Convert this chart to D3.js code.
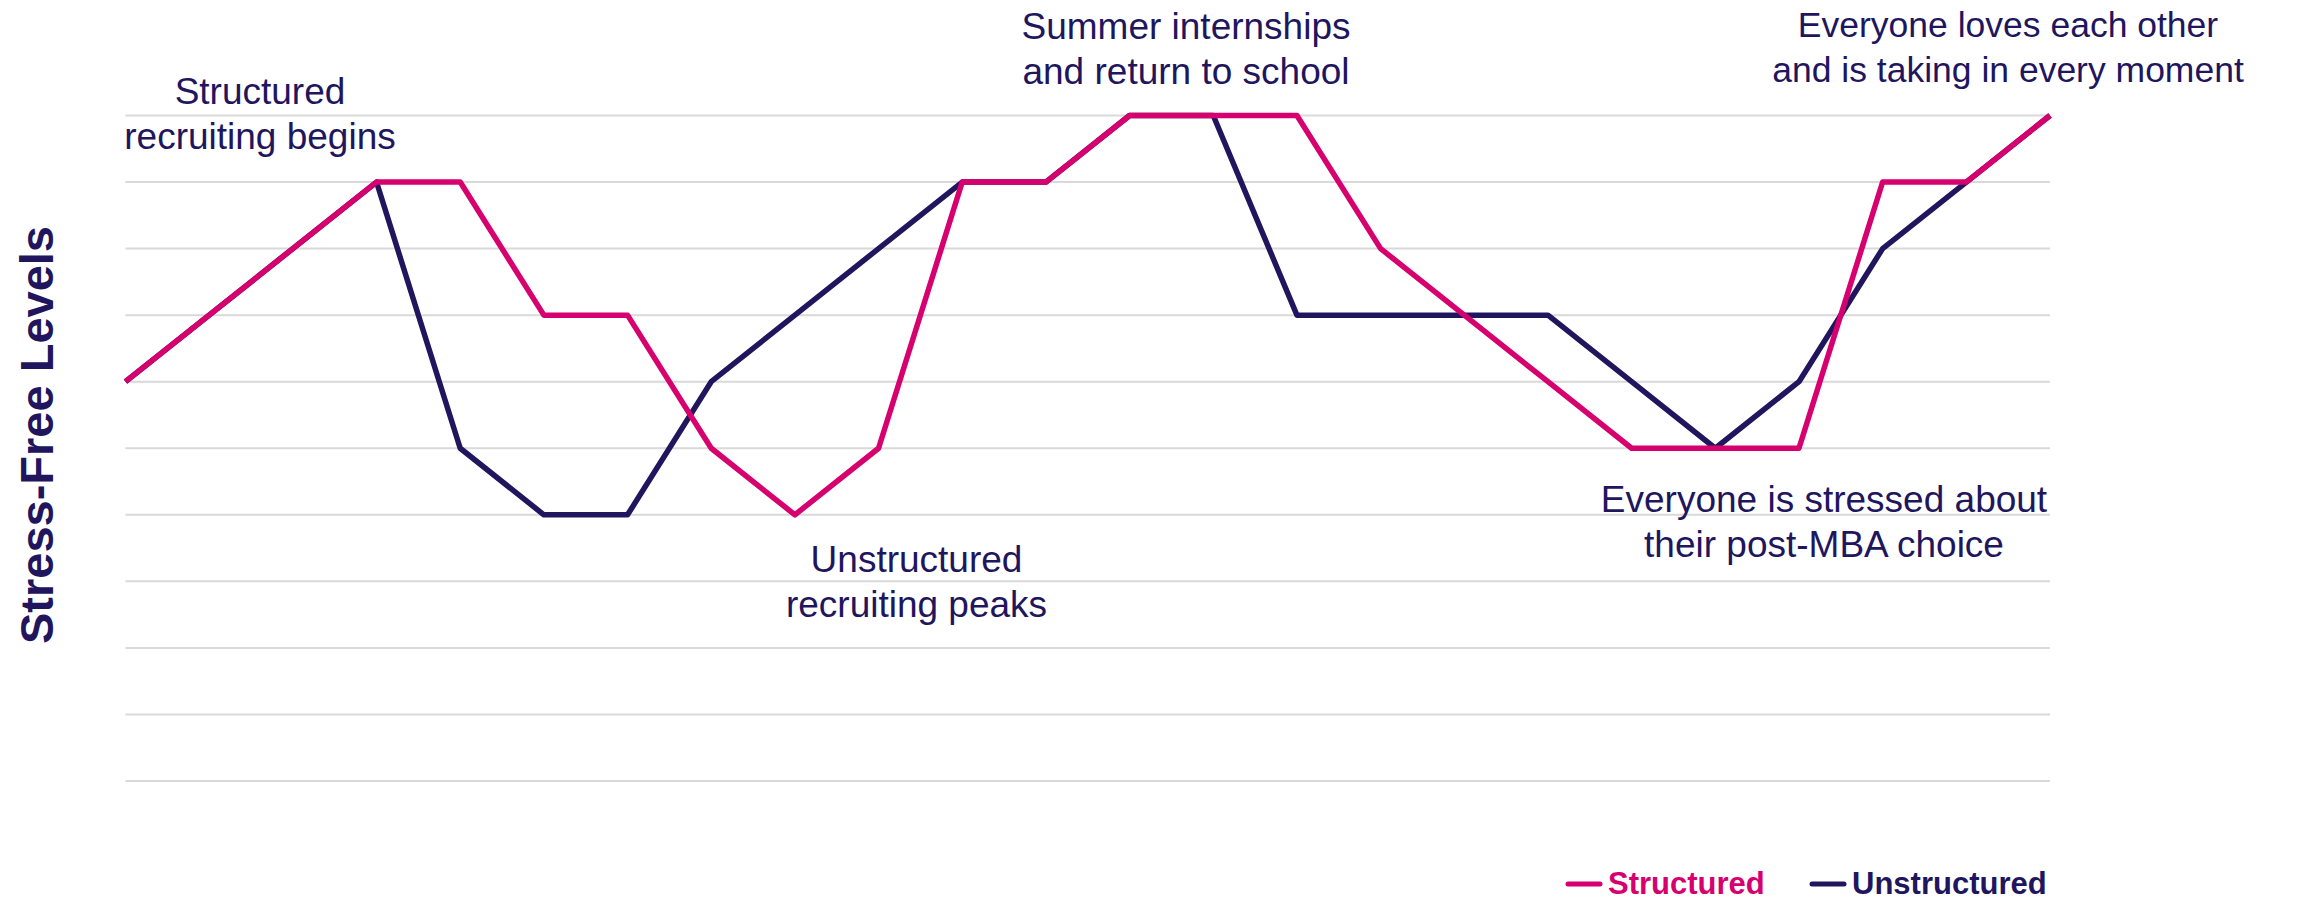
<!DOCTYPE html>
<html>
<head>
<meta charset="utf-8">
<script src="https://cdn.jsdelivr.net/npm/d3@7"></script>
<style>
  body { margin: 0; background: #fff; }
  svg { display: block; font-family: 'Liberation Sans', Arial, sans-serif; }
</style>
</head>
<body>
<div id="chart"></div>
<script>
// periods across the MBA (no labels on the axis)
const periods = ['1', '2', '3', '4', '5', '6', '7', '8', '9', '10', '11', '12',
  '13', '14', '15', '16', '17', '18', '19', '20', '21', '22', '23', '24'];

const structured = [6, 7, 8, 9, 9, 7, 7, 5, 4, 5, 9, 9, 10, 10, 10, 8, 7, 6, 5, 5, 5, 9, 9, 10];
const unstructured = [6, 7, 8, 9, 5, 4, 4, 6, 7, 8, 9, 9, 10, 10, 7, 7, 7, 7, 6, 5, 6, 8, 9, 10];

const levelTicks = [0, 1, 2, 3, 4, 5, 6, 7, 8, 9, 10];

const seriesNames = ['Structured', 'Unstructured'];

const notes = [
  ['Structured', 'recruiting begins'],
  ['Summer internships', 'and return to school'],
  ['Unstructured', 'recruiting peaks'],
  ['Everyone is stressed about', 'their post-MBA choice'],
  ['Everyone loves each other', 'and is taking in every moment']
];

const width = 2300, height = 902;
const pink = '#d6006f', navy = '#21165e';

const svg = d3.select('#chart').append('svg')
  .attr('width', width)
  .attr('height', height);

const x = d3.scalePoint().domain(periods).range([125.5, 2050]);
const y = d3.scaleLinear().domain([0, 10]).range([781, 115.5]);

// gridlines
svg.append('g')
  .selectAll('line')
  .data(levelTicks)
  .enter()
  .append('line')
  .attr('x1', x.range()[0])
  .attr('x2', x.range()[1])
  .attr('y1', d => y(d))
  .attr('y2', d => y(d))
  .style('stroke', '#d9d9d9')
  .style('stroke-width', 2);

const line = d3.line()
  .x((d, i) => x(periods[i]))
  .y(d => y(d));

// unstructured drawn first, structured sits on top
[[unstructured, navy], [structured, pink]].forEach(([vals, col]) => {
  svg.append('path')
    .datum(vals)
    .attr('d', line)
    .style('fill', 'none')
    .style('stroke', col)
    .style('stroke-width', 5.5)
    .style('stroke-linejoin', 'round');
});

// annotations
const notePos = [
  { cx: 260, base: 104, size: 37 },
  { cx: 1186, base: 39, size: 37 },
  { cx: 916.5, base: 572, size: 37 },
  { cx: 1824, base: 512, size: 37 },
  { cx: 2008, base: 37, size: 35.5 }
];

notes.forEach((lines, i) => {
  const t = svg.append('text')
    .attr('text-anchor', 'middle')
    .style('font-size', notePos[i].size + 'px')
    .style('fill', navy);
  lines.forEach((s, j) => {
    t.append('tspan')
      .attr('x', notePos[i].cx)
      .attr('y', notePos[i].base + j * 45)
      .text(s);
  });
});

// y axis title
svg.append('text')
  .attr('transform', 'translate(53,435) rotate(-90)')
  .attr('text-anchor', 'middle')
  .style('font-size', '47px')
  .style('font-weight', 'bold')
  .style('fill', navy)
  .text('Stress-Free Levels');

// legend
const legendX = [1568, 1812];
const legend = svg.append('g')
  .selectAll('g')
  .data(seriesNames)
  .enter()
  .append('g')
  .attr('transform', (d, i) => `translate(${legendX[i]},0)`);

legend.append('line')
  .attr('x1', 0)
  .attr('x2', 32)
  .attr('y1', 884)
  .attr('y2', 884)
  .style('stroke', (d, i) => (i === 0 ? pink : navy))
  .style('stroke-width', 5)
  .style('stroke-linecap', 'round');

legend.append('text')
  .attr('x', 40)
  .attr('y', 894)
  .style('font-size', '31px')
  .style('font-weight', 'bold')
  .style('fill', (d, i) => (i === 0 ? pink : navy))
  .text(d => d);
</script>
</body>
</html>
